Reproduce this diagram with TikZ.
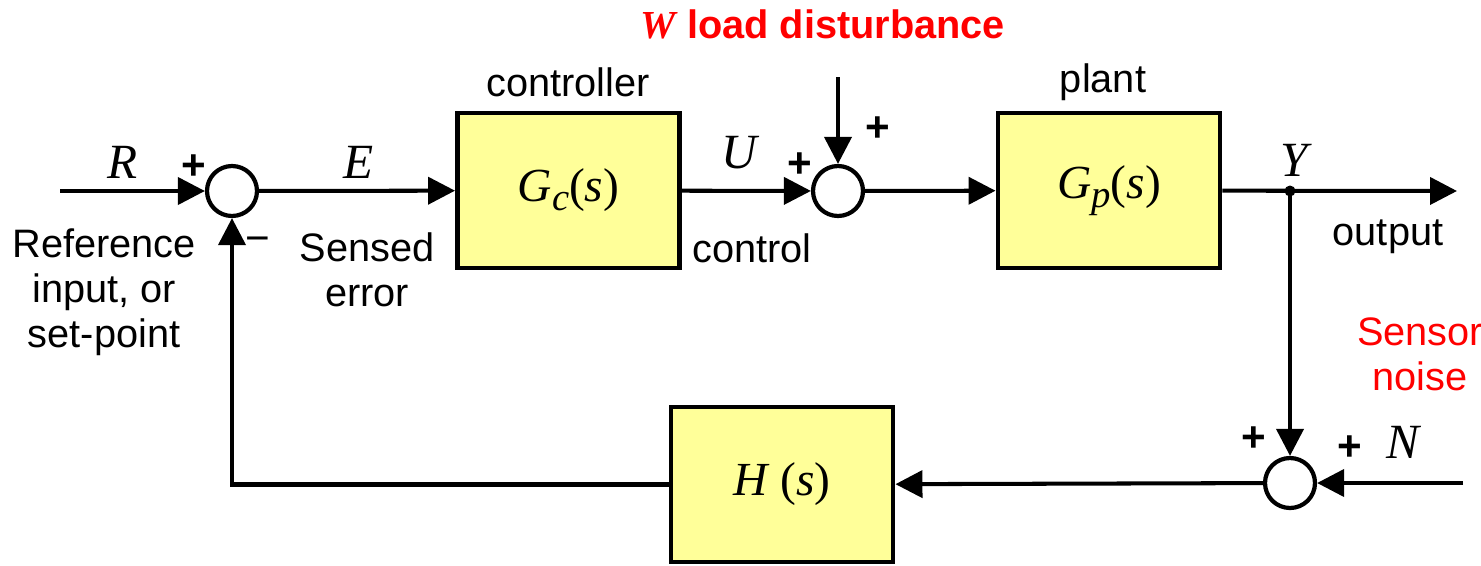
\documentclass[tikz,border=0pt]{standalone}
\usepackage{fontspec}
\setmainfont{Liberation Sans}
\newfontfamily\tms{Liberation Serif}
\usepackage{xcolor}
\usetikzlibrary{positioning, arrows.meta}
\definecolor{boxyellow}{RGB}{255,255,153}
\definecolor{noisered}{RGB}{255,0,0}
\newcommand{\sym}[1]{{\tms\itshape #1}}
\newcommand{\tf}[2]{{\tms\itshape #1\raisebox{-2.4pt}{\fontsize{11}{11}\selectfont #2}\upshape(\itshape s\upshape)}}

\begin{document}
\begin{tikzpicture}[
    blockbox/.style={rectangle, draw=black, fill=boxyellow, line width=1.4pt, minimum width=22.2mm, minimum height=15.5mm, font=\fontsize{13.5}{15}\selectfont},
    sumnode/.style={circle, draw=black, fill=white, line width=1.2pt, minimum size=5mm, inner sep=0pt},
    sig/.style={line width=1.15pt, -{Triangle[length=2.7mm, width=2.7mm]}},
    lbl/.style={font=\fontsize{11.3}{12.8}\selectfont, align=center, inner sep=0pt},
    var/.style={font=\fontsize{14}{15}\selectfont, inner sep=0pt},
    sgn/.style={font=\fontsize{12}{13}\selectfont\bfseries, inner sep=0pt}
  ]
    \useasboundingbox (0,0) rectangle (14.81,5.65);
    % forward path
    \coordinate (rin) at (0.60,3.74);
    \node[sumnode] (sum1) at (2.32,3.74) {};
    \node[blockbox] (gc) at (5.685,3.745) {\tf{G}{c}};
    \node[sumnode] (sum2) at (8.38,3.74) {};
    \node[blockbox] (gp) at (11.09,3.745) {\tf{G}{p}};
    \coordinate (ybr) at (12.90,3.74);
    \coordinate (yout) at (14.57,3.74);
    \coordinate (win) at (8.38,4.88);
    % feedback path
    \node[sumnode] (sum3) at (12.90,0.82) {};
    \coordinate (nin) at (14.63,0.82);
    \node[blockbox] (h) at (7.82,0.805) {\sym{H} \tms(\sym{s})};

    \draw[sig] (rin) -- (sum1);
    \draw[sig] (sum1) -- (gc);
    \draw[sig] (gc) -- (sum2);
    \draw[sig] (win) -- (sum2);
    \draw[sig] (sum2) -- (gp);
    \draw[sig] (gp) -- (yout);
    \draw[sig] (ybr) -- (sum3);
    \draw[sig] (nin) -- (sum3);
    \draw[sig] (sum3) -- (h);
    \draw[sig] (h) -| (sum1);
    \fill (ybr) circle (0.055);

    % labels
    \node[var] (rlab) at (1.23,4.03) {\sym{R}};
    \node[var] (elab) at (3.59,4.03) {\sym{E}};
    \node[var] (ulab) at (7.39,4.12) {\sym{U}};
    \node[var] (ylab) at (12.94,4.05) {\sym{Y}};
    \node[var] (nlab) at (14.03,1.23) {\sym{N}};
    \node[sgn] (p1) at (1.94,3.98) {+};
    \node[sgn, font=\fontsize{12}{13}\selectfont] (m1) at (2.58,3.20) {−};
    \node[sgn] (p2) at (8.00,4.00) {+};
    \node[sgn] (p3) at (8.78,4.36) {+};
    \node[sgn] (p4) at (12.54,1.26) {+};
    \node[sgn] (p5) at (13.50,1.17) {+};
    \node[lbl] (reflab) at (1.04,2.73) {Reference\\input, or\\set-point};
    \node[lbl] (errlab) at (3.67,2.95) {Sensed\\error};
    \node[lbl] (ctllab) at (5.68,4.83) {controller};
    \node[lbl] (uctl) at (7.52,3.17) {control};
    \node[lbl] (plantlab) at (11.03,4.83) {plant};
    \node[lbl] (outlab) at (13.88,3.28) {output};
    \node[lbl, text=noisered] (noiselab) at (14.20,2.11) {Sensor\\noise};
    \node[lbl, text=noisered, font=\fontsize{11.3}{13}\selectfont\bfseries] (wlab) at (8.23,5.41) {{\tms\itshape W} load disturbance};
  \end{tikzpicture}
\end{document}
